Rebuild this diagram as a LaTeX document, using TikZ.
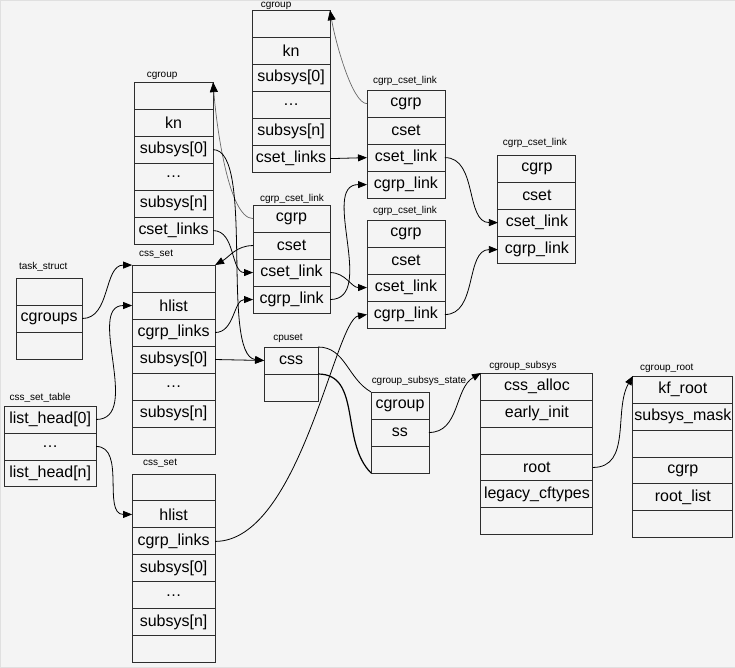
\documentclass[tikz,border=0pt]{standalone}
\usepackage{fontspec}
\setmainfont{Liberation Sans}
\usetikzlibrary{arrows.meta}
\definecolor{CgBack}{RGB}{244,244,244}
\definecolor{CgEdge}{RGB}{45,45,45}
\definecolor{CgFaint}{RGB}{105,105,105}

\begin{document}
\begin{tikzpicture}[x=1pt, y=1pt,
    cell/.style={rectangle, draw=CgEdge, line width=0.9pt,
                 minimum height=27pt, inner sep=0pt, outer sep=0pt,
                 anchor=north, font=\fontsize{16}{18}\selectfont},
    ttl/.style={inner sep=0pt, font=\fontsize{10}{12}\selectfont},
    arr/.style={-{Triangle[length=9pt, width=7pt]}, draw=black, line width=0.8pt},
    faint/.style={-{Triangle[length=10pt, width=8pt, color=black]}, draw=CgFaint, line width=0.7pt},
    ptr/.style={draw=black, line width=0.8pt}
  ]
  \useasboundingbox[fill=CgBack, draw=black!12] (0,0) rectangle (735,-667);

  % cgroup (top)
  \node[ttl] (cgA-t) at (276,-5.5) {cgroup};
  \foreach \lbl [count=\i] in {{}, kn, subsys[0], \dots, subsys[n], cset\_links}
    \node[cell, minimum width=78pt] (cgA-\i) at (291,-10-27*\i+27) {\lbl};

  % cgroup (left)
  \node[ttl] (cgB-t) at (162,-76) {cgroup};
  \foreach \lbl [count=\i] in {{}, kn, subsys[0], \dots, subsys[n], cset\_links}
    \node[cell, minimum width=79pt] (cgB-\i) at (173.5,-82-27*\i+27) {\lbl};

  % cgrp_cset_link boxes
  \node[ttl] (lkA-t) at (405,-81) {cgrp\_cset\_link};
  \foreach \lbl [count=\i] in {cgrp, cset, cset\_link, cgrp\_link}
    \node[cell, minimum width=78pt] (lkA-\i) at (406,-90-27*\i+27) {\lbl};

  \node[ttl] (lkB-t) at (535,-143) {cgrp\_cset\_link};
  \foreach \lbl [count=\i] in {cgrp, cset, cset\_link, cgrp\_link}
    \node[cell, minimum width=78pt] (lkB-\i) at (537,-155-27*\i+27) {\lbl};

  \node[ttl] (lkC-t) at (292,-199) {cgrp\_cset\_link};
  \foreach \lbl [count=\i] in {cgrp, cset, cset\_link, cgrp\_link}
    \node[cell, minimum width=77pt] (lkC-\i) at (291.5,-205-27*\i+27) {\lbl};

  \node[ttl] (lkD-t) at (405,-211) {cgrp\_cset\_link};
  \foreach \lbl [count=\i] in {cgrp, cset, cset\_link, cgrp\_link}
    \node[cell, minimum width=78pt] (lkD-\i) at (406,-220-27*\i+27) {\lbl};

  % task_struct
  \node[ttl] (task-t) at (43,-267) {task\_struct};
  \foreach \lbl [count=\i] in {{}, cgroups, {}}
    \node[cell, minimum width=66pt] (task-\i) at (49,-278-27*\i+27) {\lbl};

  % css_set boxes
  \node[ttl] (cssA-t) at (156,-254) {css\_set};
  \foreach \lbl [count=\i] in {{}, hlist, cgrp\_links, subsys[0], \dots, subsys[n], {}}
    \node[cell, minimum width=83pt] (cssA-\i) at (173.5,-265-27*\i+27) {\lbl};

  \node[ttl] (cssB-t) at (160,-463) {css\_set};
  \foreach \lbl [count=\i] in {{}, hlist, cgrp\_links, subsys[0], \dots, subsys[n], {}}
    \node[cell, minimum width=83pt] (cssB-\i) at (173.5,-474-27*\i+27) {\lbl};

  % css_set_table
  \node[ttl] (tbl-t) at (40,-398) {css\_set\_table};
  \foreach \lbl [count=\i] in {list\_head[0], \dots, list\_head[n]}
    \node[cell, minimum width=92pt] (tbl-\i) at (50,-406-27*\i+27) {\lbl};

  % cpuset
  \node[ttl] (cpu-t) at (288,-338) {cpuset};
  \foreach \lbl [count=\i] in {css, {}}
    \node[cell, minimum width=54pt] (cpu-\i) at (291,-347-27*\i+27) {\lbl};

  % cgroup_subsys_state
  \node[ttl] (st-t) at (419,-381) {cgroup\_subsys\_state};
  \foreach \lbl [count=\i] in {cgroup, ss, {}}
    \node[cell, minimum width=58pt] (st-\i) at (400,-392-27*\i+27) {\lbl};

  % cgroup_subsys
  \node[ttl] (sub-t) at (523,-366) {cgroup\_subsys};
  \foreach \lbl [count=\i] in {css\_alloc, early\_init, {}, root, legacy\_cftypes, {}}
    \node[cell, minimum width=112pt] (sub-\i) at (537,-373-27*\i+27) {\lbl};

  % cgroup_root
  \node[ttl] (root-t) at (667,-368) {cgroup\_root};
  \foreach \lbl [count=\i] in {kf\_root, subsys\_mask, {}, cgrp, root\_list, {}}
    \node[cell, minimum width=100pt] (root-\i) at (683,-376-27*\i+27) {\lbl};

  % links
  \draw[arr] (cgA-6.east) -- (lkA-3.west);
  \draw[arr] (cssA-4.east) -- (cpu-1.west);
  \foreach \a/\b in {lkA-3/lkB-3, lkD-4/lkB-4, lkC-4/lkA-4, lkC-3/lkD-3,
                     cgB-6/lkC-3, cssA-3/lkC-4, tbl-1/cssA-2, tbl-2/cssB-2}{
    \draw[arr] (\a.east) to[out=0, in=180] (\b.west);
  }
  \draw[arr] (task-2.east) to[out=0, in=180] (cssA-1.north west);
  \draw[faint] (lkA-1.west) .. controls +(-15,0) and +(5,-30) .. (cgA-1.north east);
  \draw[faint] (lkC-1.west) .. controls +(-25,0) and +(3,-40) .. (cgB-1.north east);
  \draw[arr] (lkC-2.west) to[out=180, in=30] (cssA-1.north east);
  \draw[arr] (cgB-3.east) .. controls +(42,0) and +(-44,5) .. (cpu-1.west);
  \draw[arr] (cssB-3.east) .. controls +(85,0) and +(-32,-5) .. (lkD-4.west);
  \draw[ptr] (cpu-1.north east) to[out=0, in=150] (st-1.north west);
  \draw[ptr, line width=1.2pt] (cpu-2.north east) to[out=0, in=135] (st-3.south west);
  \draw[arr] (st-2.east) to[out=0, in=210] (sub-1.north west);
  \draw[arr] (sub-4.east) to[out=0, in=240] (root-1.north west);
\end{tikzpicture}
\end{document}
